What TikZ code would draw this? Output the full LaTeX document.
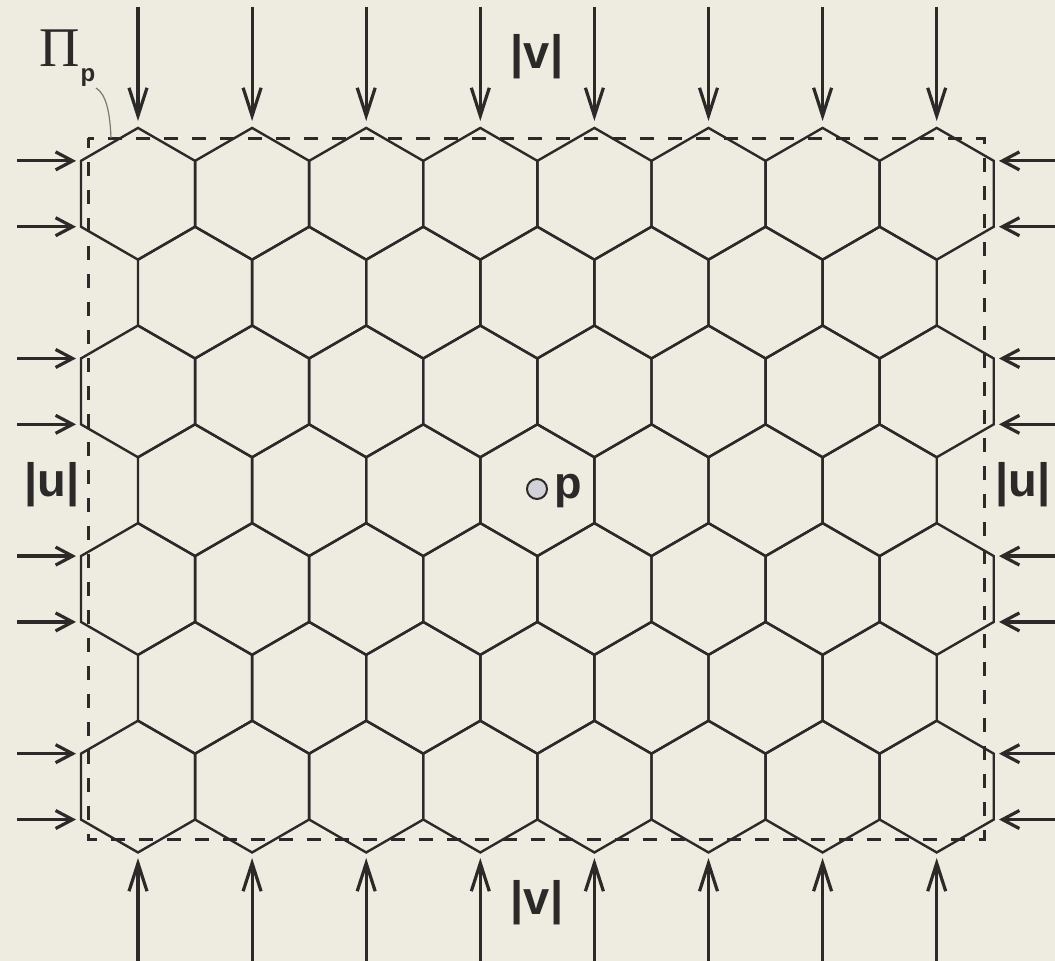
\documentclass[tikz,border=0pt]{standalone}
\usepackage{fontspec}
\setsansfont{Liberation Sans}
\newfontfamily\pifont{Liberation Serif}
\usetikzlibrary{arrows.meta}
\definecolor{bg}{HTML}{EEEBE1}
\definecolor{ink}{HTML}{2B2A28}
\definecolor{dotfill}{HTML}{D2D1D8}
\definecolor{leader}{HTML}{7A7872}
\begin{document}
\begin{tikzpicture}[x=1pt,y=-1pt,
  hexline/.style={draw=ink,line width=2.4pt,line join=miter},
  varrow/.style={draw=ink,line width=3.2pt,-{Straight Barb[length=28pt,width=18pt,line width=3.2pt]}},
  harrow/.style={draw=ink,line width=3.2pt,-{Straight Barb[length=17pt,width=18pt,line width=3.2pt]}},
  frame/.style={draw=ink,line width=3pt,dash pattern=on 14pt off 14pt,dash phase=4pt},
  lbl/.style={font=\fontsize{47}{50}\selectfont\sffamily\bfseries,text=ink,inner sep=0pt},
]
\fill[bg] (0,0) rectangle (1055,961);
\useasboundingbox (0,0) rectangle (1055,961);

% hexagonal tiling
\foreach \r in {0,...,6}{
  \pgfmathsetmacro{\cy}{193.8+98.8*\r}
  \ifodd\r \def\nh{6}\def\xo{195.05}\else \def\nh{7}\def\xo{138}\fi
  \foreach \i in {0,...,\nh}{
    \pgfmathsetmacro{\cx}{\xo+114.1*\i}
    \draw[hexline] (\cx,\cy-65.87) -- ++(57.05,32.93) -- ++(0,65.87) -- ++(-57.05,32.93) -- ++(-57.05,-32.93) -- ++(0,-65.87) -- cycle;
  }
}

% dashed frame
\draw[frame] (88,138) rectangle (984,839);

% vertical arrows
\foreach \i in {0,...,7}{
  \pgfmathsetmacro{\ax}{138+114.1*\i}
  \coordinate (ts\i) at (\ax,7);
  \coordinate (te\i) at (\ax,121);
  \coordinate (bs\i) at (\ax,961);
  \coordinate (be\i) at (\ax,858);
  \draw[varrow] (ts\i) -- (te\i);
  \draw[varrow] (bs\i) -- (be\i);
}

% horizontal arrows
\foreach \r in {0,2,4,6}{
  \pgfmathsetmacro{\cy}{193.8+98.8*\r}
  \foreach \d in {-32.93,32.93}{
    \coordinate (ls) at (17,\cy+\d);
    \coordinate (le) at (76,\cy+\d);
    \coordinate (rs) at (1055,\cy+\d);
    \coordinate (re) at (999,\cy+\d);
    \draw[harrow] (ls) -- (le);
    \draw[harrow] (rs) -- (re);
  }
}

% labels
\node[lbl] (vtop) at (537,57) {|v|};
\node[lbl] (vbot) at (537,903) {|v|};
\node[lbl] (uleft) at (52,485) {|u|};
\node[lbl] (uright) at (1023,485) {|u|};

% point p
\node[circle,draw=ink,line width=2pt,fill=dotfill,minimum size=20pt,inner sep=0pt] (pt) at (537,489) {};
\node[font=\fontsize{45}{48}\selectfont\sffamily\bfseries,text=ink,inner sep=0pt] (plbl) at (568,491) {p};

% Pi_p label
\node[font=\fontsize{56}{60}\selectfont\pifont,text=ink,inner sep=0pt] (pi) at (60,48) {Π};
\node[font=\fontsize{24}{26}\selectfont\sffamily\bfseries,text=ink,inner sep=0pt] (pisub) at (88,78) {p};
\coordinate (lead) at (111,138);
\draw[leader,line width=1.2pt] (96,88) .. controls (106,94) and (110,112) .. (lead);
\end{tikzpicture}
\end{document}
